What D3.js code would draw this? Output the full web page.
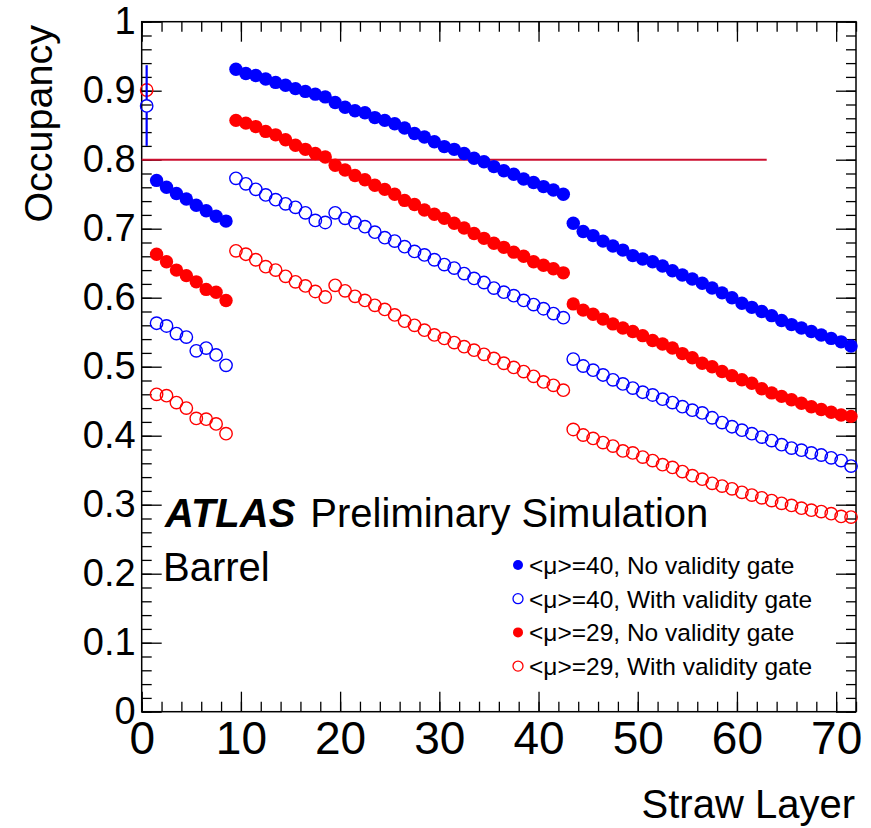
<!DOCTYPE html>
<html>
<head>
<meta charset="utf-8">
<script src="https://cdn.jsdelivr.net/npm/d3@7"></script>
<style>
  html, body { margin: 0; padding: 0; background: #fff; }
  svg { display: block; font-family: "Liberation Sans", Arial, Helvetica, sans-serif; }
</style>
</head>
<body>
<svg id="chart" width="871" height="828"></svg>
<script>
// ── Data (one value per straw layer, layer 0..71; null = no point) ──
const layers = d3.range(0, 72);

const blueFilled = [null,
  0.770, 0.760, 0.751, 0.743, 0.734, 0.726, 0.718, 0.711,
  0.931, 0.925, 0.922, 0.917, 0.912, 0.908, 0.903, 0.899, 0.895, 0.891,
  0.883, 0.876, 0.871, 0.868, 0.861, 0.857, 0.852, 0.846, 0.838, 0.833,
  0.826, 0.819, 0.815, 0.809, 0.802, 0.797, 0.790, 0.784, 0.779, 0.772,
  0.767, 0.761, 0.756, 0.750,
  0.708, 0.696, 0.690, 0.682, 0.675, 0.669, 0.661, 0.656, 0.652, 0.646,
  0.639, 0.633, 0.627, 0.621, 0.614, 0.607, 0.600, 0.592, 0.586, 0.580,
  0.574, 0.567, 0.561, 0.556, 0.551, 0.546, 0.541, 0.536, 0.530];

const blueOpen = [0.878,
  0.563, 0.559, 0.548, 0.543, 0.523, 0.527, 0.517, 0.502,
  0.773, 0.765, 0.757, 0.749, 0.742, 0.736, 0.731, 0.723, 0.712, 0.709,
  0.723, 0.715, 0.709, 0.703, 0.695, 0.687, 0.682, 0.674, 0.667, 0.662,
  0.655, 0.648, 0.643, 0.635, 0.628, 0.622, 0.614, 0.608, 0.603, 0.596,
  0.590, 0.584, 0.577, 0.571,
  0.511, 0.501, 0.495, 0.488, 0.481, 0.475, 0.469, 0.463, 0.459, 0.453,
  0.448, 0.442, 0.437, 0.433, 0.426, 0.419, 0.413, 0.408, 0.403, 0.398,
  0.393, 0.387, 0.382, 0.379, 0.375, 0.372, 0.368, 0.364, 0.356];

const redFilled = [null,
  0.663, 0.652, 0.640, 0.632, 0.623, 0.612, 0.608, 0.596,
  0.857, 0.853, 0.848, 0.841, 0.836, 0.829, 0.821, 0.815, 0.809, 0.804,
  0.792, 0.785, 0.777, 0.771, 0.763, 0.757, 0.750, 0.741, 0.735, 0.727,
  0.721, 0.715, 0.708, 0.701, 0.693, 0.686, 0.679, 0.673, 0.666, 0.660,
  0.652, 0.647, 0.642, 0.636,
  0.591, 0.582, 0.576, 0.569, 0.562, 0.556, 0.551, 0.545, 0.538, 0.533,
  0.527, 0.519, 0.513, 0.505, 0.500, 0.493, 0.487, 0.481, 0.476, 0.468,
  0.462, 0.457, 0.452, 0.447, 0.442, 0.438, 0.434, 0.430, 0.428];

const redOpen = [0.901,
  0.460, 0.458, 0.448, 0.440, 0.425, 0.424, 0.417, 0.403,
  0.668, 0.663, 0.655, 0.645, 0.640, 0.631, 0.623, 0.617, 0.609, 0.601,
  0.618, 0.610, 0.602, 0.596, 0.589, 0.583, 0.575, 0.566, 0.560, 0.553,
  0.546, 0.541, 0.535, 0.529, 0.524, 0.518, 0.512, 0.505, 0.499, 0.493,
  0.486, 0.478, 0.473, 0.466,
  0.409, 0.401, 0.396, 0.390, 0.385, 0.378, 0.375, 0.369, 0.364, 0.358,
  0.354, 0.348, 0.342, 0.337, 0.331, 0.327, 0.323, 0.318, 0.314, 0.310,
  0.306, 0.302, 0.299, 0.295, 0.292, 0.290, 0.287, 0.283, 0.282];

// error bar on the first layer (blue, with gate)
const errLayer = 0, errLow = 0.820, errHigh = 0.937;

// 80% occupancy reference line
const refLevel = 0.8, refFrom = 0, refTo = 63;

const xMajor = [0, 10, 20, 30, 40, 50, 60, 70];
const yMajor = [0, 0.1, 0.2, 0.3, 0.4, 0.5, 0.6, 0.7, 0.8, 0.9, 1];

const series = [
  { label: "<\u03bc>=40, No validity gate",   values: blueFilled, color: "#0000ff", filled: true },
  { label: "<\u03bc>=40, With validity gate", values: blueOpen,   color: "#0000ff", filled: false },
  { label: "<\u03bc>=29, No validity gate",   values: redFilled,  color: "#ff0000", filled: true },
  { label: "<\u03bc>=29, With validity gate", values: redOpen,    color: "#ff0000", filled: false },
];

// ── Layout ───────────────────────────────────────────────────────
const X0 = 141.7, X1 = 856, Y0 = 711.7, Y1 = 21.7;
const x = d3.scaleLinear().domain([0, 72]).range([X0, X1]);
const y = d3.scaleLinear().domain([0, 1]).range([Y0, Y1]);

const svg = d3.select("#chart");
const FONT = '"Liberation Sans", Arial, Helvetica, sans-serif';

// ── Axes (ticks on all four sides, pointing inward) ──────────────
function styleAxis(g) {
  g.select(".domain").remove();
  g.selectAll(".tick line").attr("stroke", "#000").attr("stroke-width", 1.3);
}

const xMinor = d3.range(0, 73, 2);
const yMinor = d3.range(0, 1.001, 0.02);

svg.append("g").attr("transform", `translate(0,${Y0})`)
  .call(d3.axisBottom(x).tickValues(xMinor).tickSize(-10).tickFormat(""))
  .call(styleAxis);
svg.append("g").attr("transform", `translate(0,${Y1})`)
  .call(d3.axisTop(x).tickValues(xMinor).tickSize(-10).tickFormat(""))
  .call(styleAxis);
svg.append("g").attr("transform", `translate(0,${Y1})`)
  .call(d3.axisTop(x).tickValues(xMajor).tickSize(-20).tickFormat(""))
  .call(styleAxis);

const xAxis = svg.append("g").attr("transform", `translate(0,${Y0})`)
  .call(d3.axisBottom(x).tickValues(xMajor).tickSize(-20).tickPadding(9)
    .tickFormat(d3.format("d")))
  .call(styleAxis);
xAxis.selectAll("text")
  .attr("font-family", FONT).attr("font-size", 46).attr("fill", "#000")
  .attr("dy", "0.72em");

svg.append("g").attr("transform", `translate(${X0},0)`)
  .call(d3.axisLeft(y).tickValues(yMinor).tickSize(-10).tickFormat(""))
  .call(styleAxis);
svg.append("g").attr("transform", `translate(${X1},0)`)
  .call(d3.axisRight(y).tickValues(yMinor).tickSize(-10).tickFormat(""))
  .call(styleAxis);
svg.append("g").attr("transform", `translate(${X1},0)`)
  .call(d3.axisRight(y).tickValues(yMajor).tickSize(-20).tickFormat(""))
  .call(styleAxis);

const yAxis = svg.append("g").attr("transform", `translate(${X0},0)`)
  .call(d3.axisLeft(y).tickValues(yMajor).tickSize(-20).tickPadding(6)
    .tickFormat(d => d === 0 || d === 1 ? String(d) : d.toFixed(1)))
  .call(styleAxis);
yAxis.selectAll("text")
  .attr("font-family", FONT).attr("font-size", 38).attr("fill", "#000");

// frame
svg.append("rect")
  .attr("x", X0).attr("y", Y1).attr("width", X1 - X0).attr("height", Y0 - Y1)
  .attr("fill", "none").attr("stroke", "#000").attr("stroke-width", 1.5);

// axis titles
svg.append("text")
  .attr("x", 855).attr("y", 818).attr("text-anchor", "end")
  .attr("font-size", 40).attr("fill", "#000")
  .text("Straw Layer");
svg.append("text")
  .attr("transform", "translate(52,25) rotate(-90)")
  .attr("text-anchor", "end")
  .attr("font-size", 39.5).attr("fill", "#000")
  .text("Occupancy");

// ── Reference line ───────────────────────────────────────────────
svg.append("line")
  .attr("x1", x(refFrom)).attr("x2", x(refTo))
  .attr("y1", y(refLevel)).attr("y2", y(refLevel))
  .attr("stroke", "#cc1030").attr("stroke-width", 2);

// ── Markers ──────────────────────────────────────────────────────
const R_FILL = 6.7, R_OPEN = 6.2;

series.forEach(s => {
  const pts = layers.map(i => ({ layer: i, v: s.values[i] })).filter(d => d.v != null);
  svg.append("g").selectAll("circle").data(pts).join("circle")
    .attr("cx", d => x(d.layer + 0.5))
    .attr("cy", d => y(d.v))
    .attr("r", s.filled ? R_FILL : R_OPEN)
    .attr("fill", s.filled ? s.color : "none")
    .attr("stroke", s.color)
    .attr("stroke-width", s.filled ? 0 : 1.4);
});

// error bar outside the open marker
{
  const ex = x(errLayer + 0.5), ey = y(blueOpen[errLayer]);
  svg.append("line").attr("x1", ex).attr("x2", ex)
    .attr("y1", y(errHigh)).attr("y2", ey - R_OPEN)
    .attr("stroke", "#0000ff").attr("stroke-width", 2.2);
  svg.append("line").attr("x1", ex).attr("x2", ex)
    .attr("y1", ey + R_OPEN).attr("y2", y(errLow))
    .attr("stroke", "#0000ff").attr("stroke-width", 2.2);
}

// ── Labels ───────────────────────────────────────────────────────
const atlas = svg.append("text").attr("x", 165).attr("y", 527)
  .attr("font-size", 40).attr("fill", "#000");
atlas.append("tspan").attr("font-weight", "bold").attr("font-style", "italic").text("ATLAS");
atlas.append("tspan").attr("dx", 15).text("Preliminary Simulation");

svg.append("text").attr("x", 163).attr("y", 581)
  .attr("font-size", 40).attr("fill", "#000").text("Barrel");

// ── Legend ───────────────────────────────────────────────────────
const legend = svg.append("g").attr("transform", "translate(518,565)");
series.forEach((s, i) => {
  const row = legend.append("g").attr("transform", `translate(0,${i * 33.7})`);
  row.append("circle").attr("r", 5)
    .attr("fill", s.filled ? s.color : "none")
    .attr("stroke", s.color).attr("stroke-width", s.filled ? 0 : 1.3);
  row.append("text").attr("x", 11).attr("y", 9)
    .attr("font-size", 24.5).attr("fill", "#000").text(s.label);
});
</script>
</body>
</html>
